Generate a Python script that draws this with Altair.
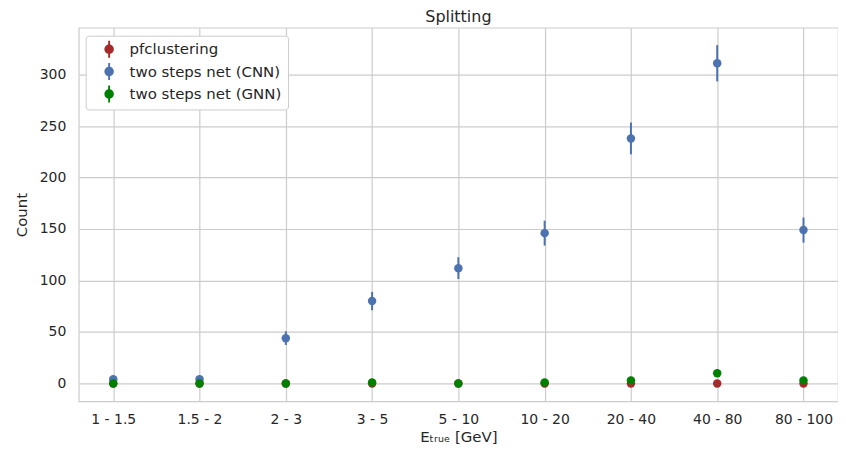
import altair as alt
import pandas as pd

categories = ["1 - 1.5", "1.5 - 2", "2 - 3", "3 - 5", "5 - 10", "10 - 20", "20 - 40", "40 - 80", "80 - 100"]
pf_vals = [0, 0, 0, 0, 0, 0, 0, 0, 0]
pf_err = [0, 0, 0, 0, 0, 0, 0, 0, 0]
cnn_vals = [4, 4, 44, 80, 112, 146, 238, 311, 149]
cnn_err = [2, 2, 6.6, 8.9, 10.6, 12.1, 15.4, 17.6, 12.2]
gnn_vals = [0, 0, 0, 1, 0, 1, 3, 10, 3]
gnn_err = [0, 0, 0, 1, 0, 1, 1.7, 3.2, 1.7]
y_ticks = [0, 50, 100, 150, 200, 250, 300]

series_names = ["pfclustering", "two steps net (CNN)", "two steps net (GNN)"]
series_colors = ["#a52a2a", "#4c72b0", "#008000"]

rows = []
for order, (name, vals, errs) in enumerate(zip(series_names, [pf_vals, cnn_vals, gnn_vals], [pf_err, cnn_err, gnn_err])):
    for c, v, e in zip(categories, vals, errs):
        rows.append({"cat": c, "series": name, "value": v, "lo": v - e, "hi": v + e, "order": order})
df = pd.DataFrame(rows)

font = "DejaVu Sans"
ink = "#262626"
x_enc = alt.X("cat:N", sort=categories, scale=alt.Scale(type="point", padding=0.4),
              axis=alt.Axis(title="Eₜᵣᵤₑ [GeV]", labelAngle=0, ticks=False, labelPadding=11,
                            titlePadding=3, labelFont=font, labelFontSize=14, labelColor=ink,
                            titleFont=font, titleFontSize=15, titleColor=ink, titleFontWeight="normal",
                            grid=True, gridColor="#cccccc", gridWidth=1.2, domain=False))
y_scale = alt.Scale(domain=[-17.4, 345.5], nice=False, zero=False)
legend = alt.Legend(title=None, orient="none", legendX=7, legendY=8,
                    symbolType="M-1,0 A1,1 0 1,1 1,0 A1,1 0 1,1 -1,0 Z M-0.2,-1.8 L0.2,-1.8 L0.2,1.8 L-0.2,1.8 Z",
                    symbolSize=90, symbolStrokeWidth=0, labelFontSize=15,
                    labelFont=font, labelColor=ink, rowPadding=3.5,
                    strokeColor="#cccccc", fillColor="white", padding=6,
                    cornerRadius=3, symbolOffset=10, labelOffset=13)
color_enc = alt.Color("series:N", sort=series_names,
                      scale=alt.Scale(domain=series_names, range=series_colors),
                      legend=legend)

base = alt.Chart(df)
rules = base.mark_rule(strokeWidth=2).encode(
    x=x_enc,
    y=alt.Y("lo:Q", scale=y_scale),
    y2="hi:Q",
    color=color_enc,
    order="order:Q",
)
points = base.mark_circle(size=72, opacity=1).encode(
    x=x_enc,
    y=alt.Y("value:Q", scale=y_scale,
            axis=alt.Axis(title="Count", values=y_ticks, ticks=False,
                          labelPadding=13, titlePadding=9.5, labelFont=font, labelFontSize=14,
                          labelColor=ink, titleFont=font, titleFontSize=15, titleColor=ink,
                          titleFontWeight="normal", grid=True, gridColor="#cccccc", gridWidth=1.2,
                          domain=False)),
    color=color_enc,
    order="order:Q",
)

chart = alt.layer(rules, points).properties(
    width=762, height=375,
    padding={"left": 71, "top": 19, "right": 0, "bottom": 46},
    autosize=alt.AutoSizeParams(type="none"),
    title=alt.Title("Splitting", fontSize=16, font=font, fontWeight="normal", color=ink, offset=3),
).configure(background="white").configure_view(stroke="#cccccc", strokeWidth=1.2)

chart.save("out.html", embed_options={"renderer": "svg", "actions": False})
